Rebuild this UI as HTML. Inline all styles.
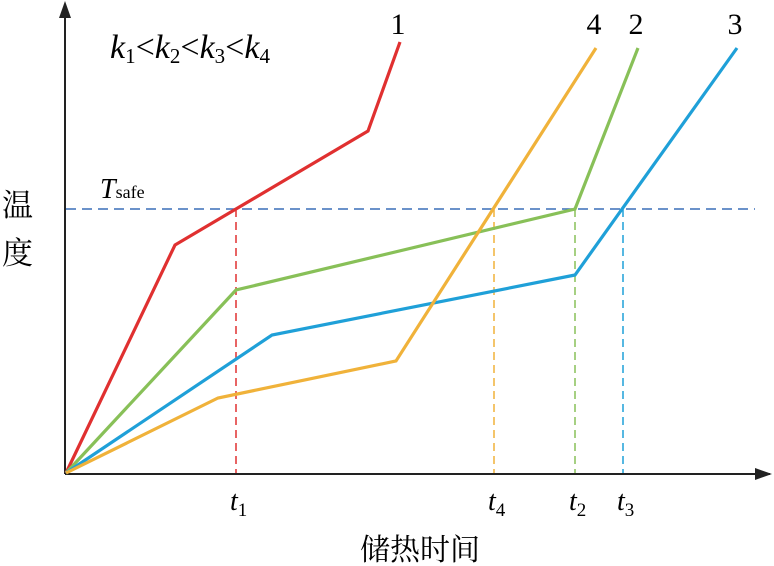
<!DOCTYPE html>
<html><head><meta charset="utf-8"><style>
html,body{margin:0;padding:0;background:#fff;}
svg{display:block;font-family:"Liberation Serif","Noto Serif CJK SC",serif;}
</style></head><body>
<svg id="chart" width="774" height="566" viewBox="0 0 774 566">
<g id="axes">
<line x1="65" y1="474" x2="770" y2="474" stroke="#222" stroke-width="2"/>
<polygon points="772,474 755,468 755,480" fill="#222"/>
<line x1="65" y1="474" x2="65" y2="12" stroke="#222" stroke-width="2"/>
<polygon points="65,1 59,18 71,18" fill="#222"/>
</g>
<g id="marks"></g>
<text x="110" y="58" font-size="34" font-style="italic">k<tspan font-size="21" font-style="normal" dy="5">1</tspan><tspan font-style="normal" dy="-5">&lt;</tspan>k<tspan font-size="21" font-style="normal" dy="5">2</tspan><tspan font-style="normal" dy="-5">&lt;</tspan>k<tspan font-size="21" font-style="normal" dy="5">3</tspan><tspan font-style="normal" dy="-5">&lt;</tspan>k<tspan font-size="21" font-style="normal" dy="5">4</tspan></text>
<text x="100" y="198" font-size="28" font-style="italic">T<tspan font-size="18" font-style="normal">safe</tspan></text>
<text x="2" y="216" font-size="31">温</text>
<text x="2" y="264" font-size="31">度</text>
<text x="420" y="560" font-size="30" text-anchor="middle">储热时间</text>
</svg>
<script>
const seriesNames=["1","2","3","4"];
const seriesColors=["#e03030","#88c058","#1fa0d8","#f0b23a"];
const xs1=[0,10.9,30.2,33.4], ys1=[0,22.8,34.2,43.1];
const xs2=[0,17,50.9,57.2], ys2=[0,18.3,26.4,42.5];
const xs3=[0,20.6,50.9,67.1], ys3=[0,13.8,19.8,42.5];
const xs4=[0,15.2,33,53], ys4=[0,7.5,11.2,42.5];
const tSafe=26.4;
const tNames=["1","4","2","3"];
const tValues=[17,42.8,50.9,55.7];
const tColors=["#e03030","#f0b23a","#88c058","#1fa0d8"];
const sx=v=>66+v*10, sy=v=>473-v*10;
const NS="http://www.w3.org/2000/svg";
const g=document.getElementById("marks");
function mk(tag,attrs){const e=document.createElementNS(NS,tag);for(const k in attrs)e.setAttribute(k,attrs[k]);g.appendChild(e);return e;}
const ts=mk("line",{x1:sx(0),x2:755,y1:sy(tSafe),y2:sy(tSafe),stroke:"#3a6fb8","stroke-width":1.5,"stroke-dasharray":"10,6"});


tValues.forEach((t,i)=>{
  const l=mk("line",{x1:sx(t),x2:sx(t),y1:sy(tSafe),y2:sy(0),stroke:tColors[i],"stroke-width":1.5,"stroke-dasharray":"8,5"});
  
  
  const tx=mk("text",{x:sx(t)-6,y:510,"font-size":28,"font-style":"italic"});
  tx.innerHTML='t<tspan font-size="19" font-style="normal" dy="6">'+tNames[i]+'</tspan>';
  
  
});
const all=[[xs1,ys1],[xs2,ys2],[xs3,ys3],[xs4,ys4]];
all.forEach((s,i)=>{
  const pts=s[0].map((x,j)=>sx(x)+","+sy(s[1][j])).join(" ");
  const p=mk("polyline",{points:pts,fill:"none",stroke:seriesColors[i],"stroke-width":3.2,"stroke-linejoin":"miter"});
  
  
  const n=s[0].length-1;
  const lb=mk("text",{x:sx(s[0][n])-2,y:34,"font-size":30,"text-anchor":"middle"});
  lb.textContent=seriesNames[i];
  
  
});
</script>
</body></html>
